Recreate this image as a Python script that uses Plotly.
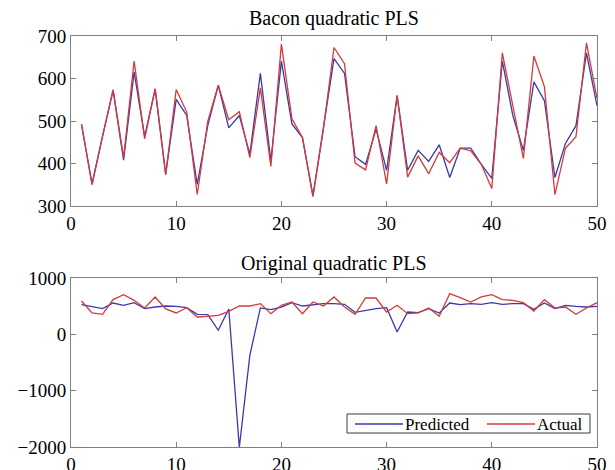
import plotly.graph_objects as go

# sample index 1..50
idx = list(range(1, 51))

# Bacon quadratic PLS
bacon_pred = [492, 352, 465, 572, 408, 615, 464, 575, 375, 551,
              513, 351, 489, 584, 484, 513, 422, 612, 406, 641,
              493, 461, 324, 480, 647, 612, 416, 398, 481, 384,
              560, 384, 431, 405, 444, 367, 436, 436, 398, 365,
              641, 513, 431, 592, 548, 367, 447, 489, 660, 536]
bacon_act = [492, 350, 463, 574, 414, 641, 458, 576, 374, 574,
             521, 327, 499, 584, 503, 522, 414, 578, 393, 681,
             505, 461, 322, 482, 673, 635, 401, 385, 489, 352,
             560, 368, 418, 376, 426, 402, 436, 430, 398, 341,
             660, 535, 412, 653, 581, 327, 436, 463, 684, 553]

# Original quadratic PLS
orig_pred = [527, 485, 456, 556, 515, 562, 456, 485, 503, 497,
             473, 355, 349, 71, 450, -2005, -373, 468, 438, 485,
             562, 503, 527, 545, 545, 533, 391, 426, 456, 473,
             41, 396, 385, 456, 379, 556, 527, 545, 533, 562,
             533, 545, 545, 444, 556, 456, 515, 497, 485, 497]
orig_act = [592, 379, 355, 616, 704, 604, 468, 663, 450, 379,
            473, 308, 320, 337, 408, 503, 503, 545, 367, 515,
            574, 367, 574, 503, 663, 485, 355, 645, 645, 396,
            515, 367, 379, 468, 320, 722, 651, 574, 663, 704,
            616, 604, 562, 414, 616, 468, 485, 355, 468, 562]

blue = 'rgb(58,58,170)'
red = 'rgb(212,58,58)'
serif = 'Liberation Serif, Times New Roman, serif'

# the page has an 8px body margin, so the figure is laid out 8px smaller
W, H = 607, 462

fig = go.Figure()

fig.add_trace(go.Scatter(x=idx, y=bacon_pred, mode='lines', line=dict(color=blue, width=1.3),
                         showlegend=False, xaxis='x', yaxis='y'))
fig.add_trace(go.Scatter(x=idx, y=bacon_act, mode='lines', line=dict(color=red, width=1.3),
                         showlegend=False, xaxis='x', yaxis='y'))
fig.add_trace(go.Scatter(x=idx, y=orig_pred, mode='lines', line=dict(color=blue, width=1.3),
                         showlegend=False, xaxis='x2', yaxis='y2'))
fig.add_trace(go.Scatter(x=idx, y=orig_act, mode='lines', line=dict(color=red, width=1.3),
                         showlegend=False, xaxis='x2', yaxis='y2'))

axis_style = dict(
    showline=True, linecolor='rgb(128,128,128)', linewidth=1,
    mirror='ticks', ticks='inside', ticklen=5, tickcolor='rgb(128,128,128)',
    showgrid=False, zeroline=False, automargin=False,
    tickfont=dict(family=serif, size=19, color='black'),
)


def px(x):
    return x / W


def py(y):
    return 1 - y / H


# compact matlab-like legend box in the lower plot
shapes = [
    dict(type='rect', xref='paper', yref='paper', x0=px(339), x1=px(582), y0=py(425), y1=py(406),
         line=dict(color='rgb(60,60,60)', width=1), fillcolor='white', layer='above'),
    dict(type='line', xref='paper', yref='paper', x0=px(347), x1=px(395), y0=py(416), y1=py(416),
         line=dict(color=blue, width=1.3), layer='above'),
    dict(type='line', xref='paper', yref='paper', x0=px(479), x1=px(527), y0=py(416), y1=py(416),
         line=dict(color=red, width=1.3), layer='above'),
]

annotations = [
    dict(text='Bacon quadratic PLS', x=px(326), y=py(10), xanchor='center', yanchor='middle', size=20),
    dict(text='Original quadratic PLS', x=px(326), y=py(255), xanchor='center', yanchor='middle', size=20),
    dict(text='Predicted', x=px(396), y=py(416), xanchor='left', yanchor='middle', size=17),
    dict(text='Actual', x=px(528), y=py(416), xanchor='left', yanchor='middle', size=17),
]
annotations = [
    dict(text=a['text'], x=a['x'], y=a['y'], xref='paper', yref='paper',
         xanchor=a['xanchor'], yanchor=a['yanchor'], showarrow=False, borderpad=0,
         font=dict(family=serif, size=a['size'], color='black'))
    for a in annotations
]

fig.update_layout(
    width=W, height=H,
    margin=dict(l=0, r=0, t=0, b=0),
    paper_bgcolor='white', plot_bgcolor='white',
    font=dict(family=serif, color='black'),
    showlegend=False,
    xaxis=dict(domain=[px(63), px(589)], anchor='y', range=[0, 50], dtick=10, **axis_style),
    yaxis=dict(domain=[264 / H, 434 / H], anchor='x', range=[300, 700], dtick=100, **axis_style),
    xaxis2=dict(domain=[px(63), px(589)], anchor='y2', range=[0, 50], dtick=10, **axis_style),
    yaxis2=dict(domain=[23 / H, 192 / H], anchor='x2', range=[-2000, 1000], dtick=1000, **axis_style),
    shapes=shapes,
    annotations=annotations,
)

fig.write_html("out.html")
